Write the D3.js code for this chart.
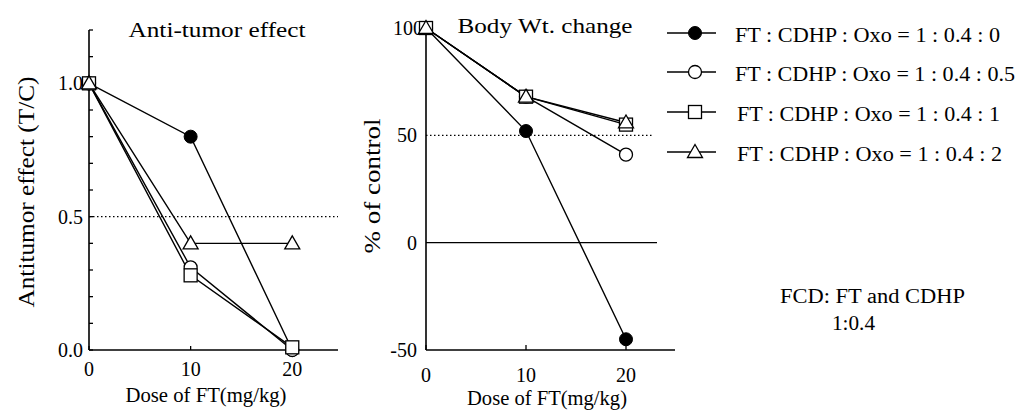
<!DOCTYPE html>
<html>
<head>
<meta charset="utf-8">
<script src="https://cdn.jsdelivr.net/npm/d3@7"></script>
<style>
  body { margin: 0; background: #fff; }
  svg text { font-family: "Liberation Serif", "Times New Roman", serif; fill: #000; }
</style>
</head>
<body>
<div id="chart"></div>
<script>
// data
var doses = [0, 10, 20];
var seriesNames = ["FT : CDHP : Oxo = 1 : 0.4 : 0", "FT : CDHP : Oxo = 1 : 0.4 : 0.5",
                   "FT : CDHP : Oxo = 1 : 0.4 : 1", "FT : CDHP : Oxo = 1 : 0.4 : 2"];
var seriesMarkers = ["filledCircle", "circle", "square", "triangle"];
var tumorValues = [[1.0, 0.80, 0.0], [1.0, 0.31, 0.0], [1.0, 0.28, 0.01], [1.0, 0.40, 0.40]];
var bodyValues = [[100, 52, -45], [100, 68, 41], [100, 68, 55], [100, 68, 56]];
var tumorTicks = [0.0, 0.5, 1.0];
var tumorMinor = [0.1, 0.2, 0.3, 0.4, 0.6, 0.7, 0.8, 0.9, 1.1, 1.2];
var bodyTicks = [-50, 0, 50, 100];
var xTicks = [0, 10, 20];

var W = 1019, H = 414;
var svg = d3.select("#chart").append("svg").attr("width", W).attr("height", H)
  .attr("font-family", "Liberation Serif, serif");

// text helper, width forced to what the scan shows
function label(g, txt, x, y, size, anchor, len) {
  var t = g.append("text").attr("x", x).attr("y", y).attr("font-size", size)
    .attr("text-anchor", anchor || "start").text(txt);
  if (len) t.attr("textLength", len).attr("lengthAdjust", "spacingAndGlyphs");
  return t;
}

// marker drawer
function drawMarker(g, type, x, y) {
  if (type === "filledCircle") {
    g.append("circle").attr("cx", x).attr("cy", y).attr("r", 6.5).attr("fill", "#000").attr("stroke", "#000");
  } else if (type === "circle") {
    g.append("circle").attr("cx", x).attr("cy", y).attr("r", 6.5).attr("fill", "#fff").attr("stroke", "#000").attr("stroke-width", 1.3);
  } else if (type === "square") {
    g.append("rect").attr("x", x - 6.5).attr("y", y - 6.5).attr("width", 13).attr("height", 13)
      .attr("fill", "#fff").attr("stroke", "#000").attr("stroke-width", 1.3);
  } else {
    g.append("path").attr("d", "M" + x + "," + (y - 7.5) + "L" + (x + 7.5) + "," + (y + 5.5) + "L" + (x - 7.5) + "," + (y + 5.5) + "Z")
      .attr("fill", "#fff").attr("stroke", "#000").attr("stroke-width", 1.3);
  }
}

function drawSeries(g, values, x, y) {
  var line = d3.line().x(function(d, i) { return x(doses[i]); }).y(function(d) { return y(d); });
  var order = [0, 1, 2, 3];
  order.forEach(function(s) {
    g.append("path").attr("d", line(values[s])).attr("fill", "none").attr("stroke", "#000").attr("stroke-width", 1.4);
  });
  order.forEach(function(s) {
    values[s].forEach(function(v, i) { drawMarker(g, seriesMarkers[s], x(doses[i]), y(v)); });
  });
}

// ---------- left panel: anti-tumor effect
var x1 = d3.scaleLinear().domain([0, 24.5]).range([89, 338]);
var y1 = d3.scaleLinear().domain([0, 1.2]).range([350, 30]);
var g1 = svg.append("g");

g1.append("line").attr("x1", x1(0)).attr("x2", x1.range()[1]).attr("y1", y1(0)).attr("y2", y1(0)).attr("stroke", "#000").attr("stroke-width", 1.6);
g1.append("line").attr("x1", x1(0)).attr("x2", x1(0)).attr("y1", y1(0)).attr("y2", y1(1.2)).attr("stroke", "#000").attr("stroke-width", 1.6);
g1.selectAll(".minor").data(tumorMinor.concat(tumorTicks)).enter().append("line")
  .attr("x1", x1(0)).attr("x2", x1(0) + 4).attr("y1", function(d) { return y1(d); }).attr("y2", function(d) { return y1(d); })
  .attr("stroke", "#000").attr("stroke-width", 1.3);
tumorTicks.forEach(function(d) {
  label(g1, d3.format(".1f")(d), x1(0) - 6, y1(d) + 7, 20, "end", 25);
});
g1.selectAll(".xtick").data(xTicks).enter().append("line")
  .attr("x1", function(d) { return x1(d); }).attr("x2", function(d) { return x1(d); })
  .attr("y1", y1(0)).attr("y2", y1(0) - 4).attr("stroke", "#000").attr("stroke-width", 1.3);
xTicks.forEach(function(d) {
  label(g1, d, x1(d), 376, 20, "middle");
});
g1.append("line").attr("x1", x1(0)).attr("x2", x1.range()[1]).attr("y1", y1(0.5)).attr("y2", y1(0.5))
  .attr("stroke", "#000").attr("stroke-width", 1.3).attr("stroke-dasharray", "1.5,2.5");
label(g1, "Anti-tumor effect", 217, 37, 22, "middle", 177);
label(g1, "Dose of FT(mg/kg)", 206, 402, 20, "middle", 161);
label(g1.append("g").attr("transform", "translate(34,192) rotate(-90)"), "Antitumor effect (T/C)", 0, 0, 23, "middle", 231);
drawSeries(g1, tumorValues, x1, y1);

// ---------- right panel: body weight change
var x2 = d3.scaleLinear().domain([0, 24.9]).range([426, 675]);
var y2 = d3.scaleLinear().domain([-50, 100]).range([350, 28]);
var g2 = svg.append("g");

g2.append("line").attr("x1", x2(0)).attr("x2", x2.range()[1]).attr("y1", y2(-50)).attr("y2", y2(-50)).attr("stroke", "#000").attr("stroke-width", 1.6);
g2.append("line").attr("x1", x2(0)).attr("x2", x2(0)).attr("y1", y2(-50)).attr("y2", y2(100)).attr("stroke", "#000").attr("stroke-width", 1.6);
g2.append("line").attr("x1", x2(0)).attr("x2", 657).attr("y1", y2(0)).attr("y2", y2(0)).attr("stroke", "#000").attr("stroke-width", 1.4);
g2.append("line").attr("x1", x2(0)).attr("x2", 653).attr("y1", y2(50)).attr("y2", y2(50))
  .attr("stroke", "#000").attr("stroke-width", 1.3).attr("stroke-dasharray", "1.5,2.5");
g2.selectAll(".xtick").data(xTicks).enter().append("line")
  .attr("x1", function(d) { return x2(d); }).attr("x2", function(d) { return x2(d); })
  .attr("y1", y2(-50)).attr("y2", y2(-50) - 5).attr("stroke", "#000").attr("stroke-width", 1.3);
bodyTicks.forEach(function(d) {
  label(g2, d, d === 100 ? x2(0) - 3 : x2(0) - 9, y2(d) + 7, 20, "end");
});
xTicks.forEach(function(d) {
  label(g2, d, x2(d), 382, 20, "middle");
});
label(g2, "Body Wt. change", 545, 33, 22, "middle", 175);
label(g2, "Dose of FT(mg/kg)", 547, 405, 20, "middle", 160);
label(g2.append("g").attr("transform", "translate(380,186) rotate(-90)"), "% of  control", 0, 0, 23, "middle", 135);
drawSeries(g2, bodyValues, x2, y2);

// ---------- legend
var legRows = [33, 72, 112, 152];
var legLen = [265, 280, 263, 265];
var lg = svg.append("g");
seriesNames.forEach(function(name, i) {
  var yy = legRows[i];
  lg.append("line").attr("x1", 667).attr("x2", 716).attr("y1", yy).attr("y2", yy).attr("stroke", "#000").attr("stroke-width", 1.4);
  drawMarker(lg, seriesMarkers[i], 695, yy);
  label(lg, name, i >= 2 ? 737 : 735, yy + 9, 22, "start", legLen[i]);
});

label(svg, "FCD: FT and CDHP", 780, 303, 20, "start", 185);
label(svg, "1:0.4", 832, 330, 20, "start", 43);
</script>
</body>
</html>
